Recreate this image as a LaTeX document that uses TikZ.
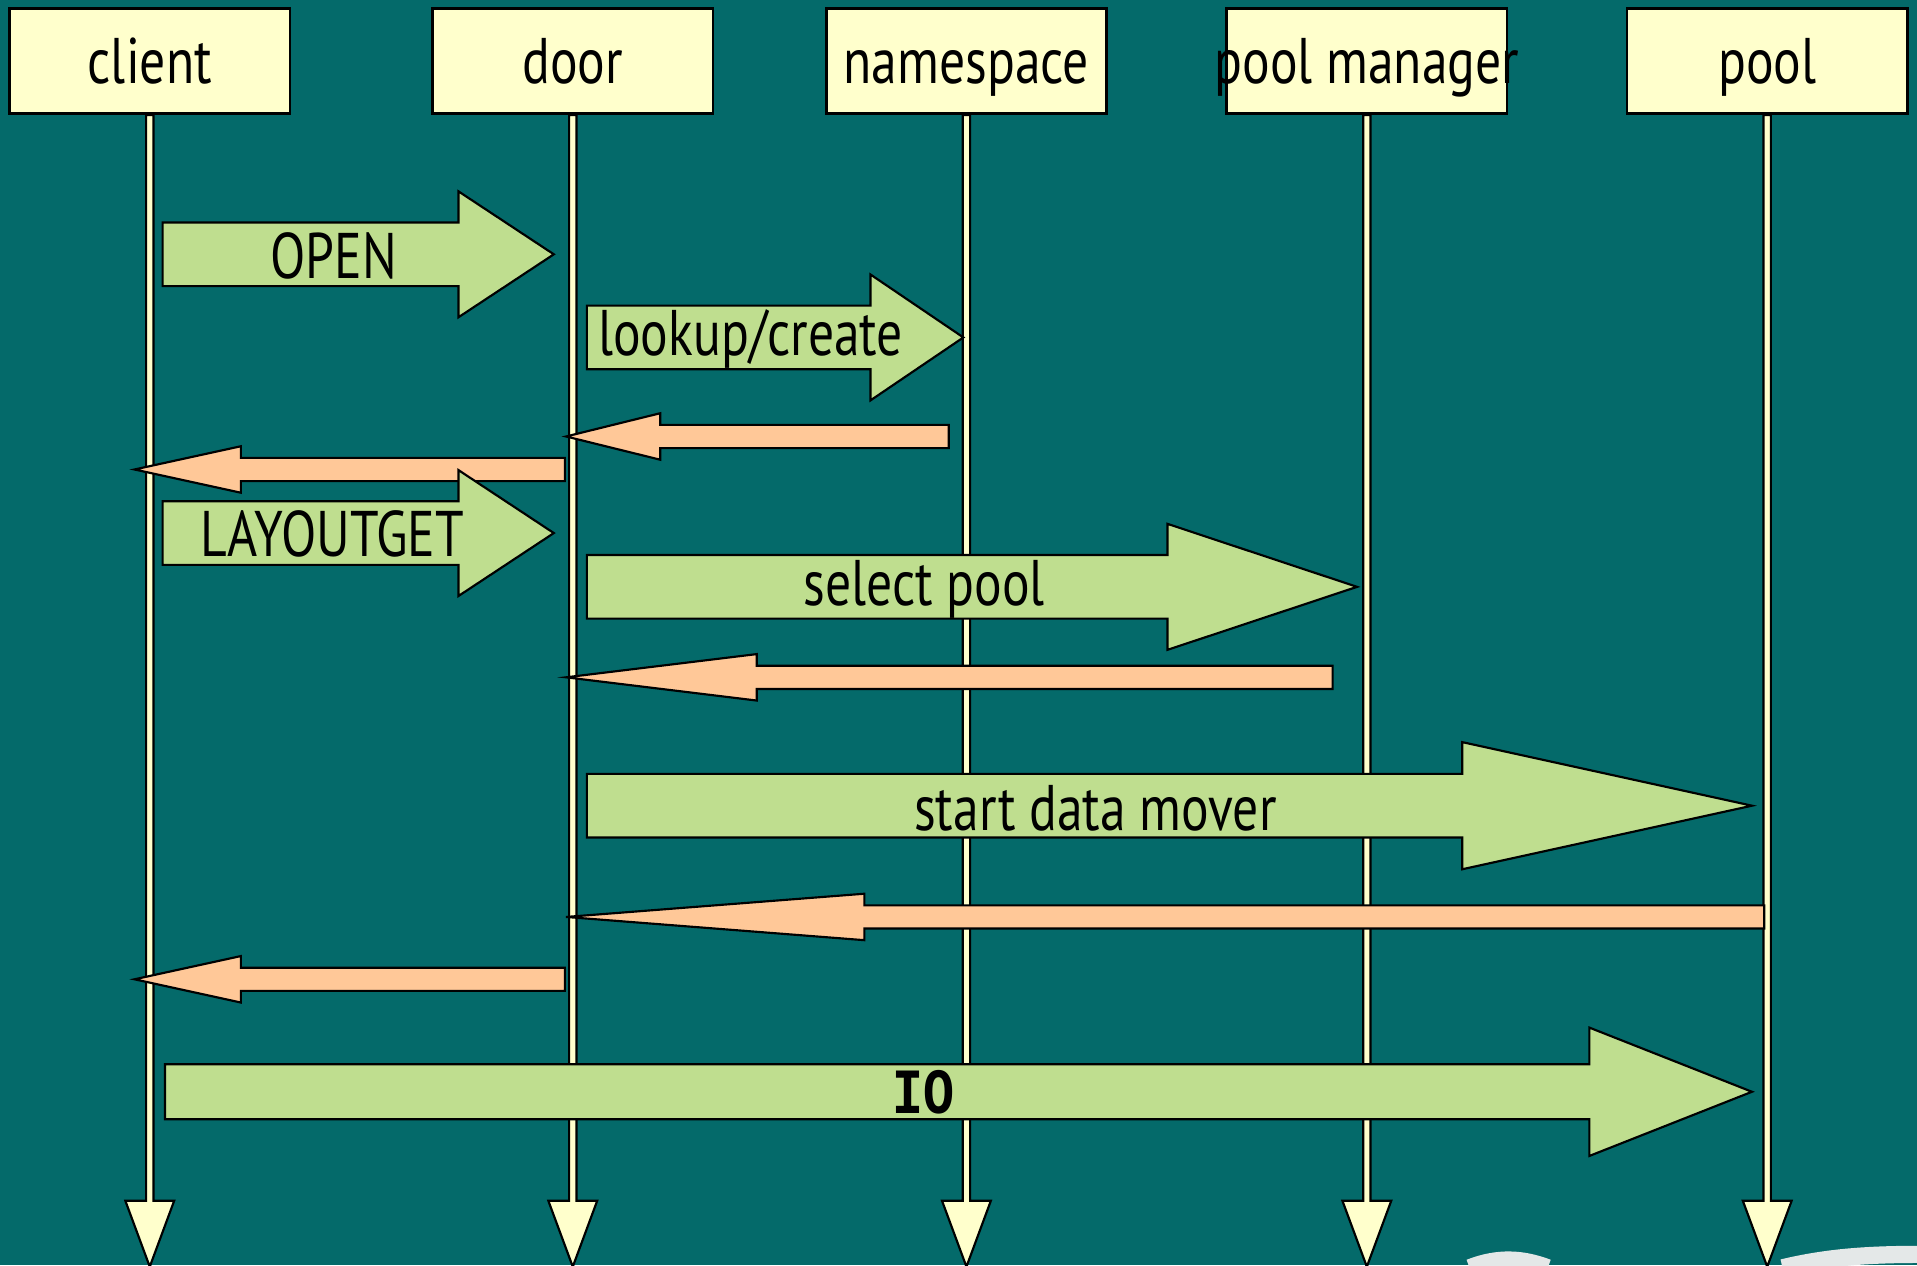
\documentclass[tikz,border=0pt]{standalone}
\usepackage{fontspec}
\setmainfont[FakeStretch=0.8]{PT Sans}
\newfontfamily\iofont[FakeStretch=0.8]{Liberation Mono}
\usetikzlibrary{calc}
\definecolor{slidebg}{RGB}{4,106,106}
\definecolor{hdrfill}{RGB}{255,255,204}
\definecolor{reqfill}{RGB}{191,222,143}
\definecolor{repfill}{RGB}{255,200,152}
\definecolor{swoosh}{RGB}{228,232,232}
% block arrow: fill, x start, x head base, x tip, y, shaft half, head half
\newcommand{\blockarrow}[7]{%
  \draw[blk,fill=#1] (#2,#5-#6) -- (#3,#5-#6) -- (#3,#5-#7) -- (#4,#5)
    -- (#3,#5+#7) -- (#3,#5+#6) -- (#2,#5+#6) -- cycle;}

\begin{document}
\begin{tikzpicture}[x=0.01cm,y=-0.01cm,
  hdr/.style={draw,fill=hdrfill,line width=0.6pt,minimum width=2.29cm,minimum height=0.86cm,inner sep=0pt,
    text height=0.45cm,text depth=0.09cm,font=\fontsize{15}{17}\selectfont},
  life/.style={draw=black,fill=hdrfill,line width=0.5pt},
  blk/.style={draw=black,line width=0.5pt},
  lbl/.style={font=\fontsize{15}{17}\selectfont,inner sep=0pt}]
  \useasboundingbox (0,0) rectangle (1568,1035);
  \fill[slidebg] (0,0) rectangle (1568,1035);
  % template swoosh
  \draw[swoosh,line width=4] (1202,1037) .. controls (1225,1028) and (1245,1029) .. (1266,1037);
  \draw[swoosh,line width=4] (1458,1037) .. controls (1495,1028) and (1530,1026) .. (1570,1026);
  % participants
  \node[hdr] (client) at (122.5,50) {client};
  \node[hdr] (door) at (468.5,50) {door};
  \node[hdr] (namespace) at (790.5,50) {namespace};
  \node[hdr] (poolmgr) at (1118,50) {\makebox[0pt]{pool manager}};
  \node[hdr] (pool) at (1445.5,50) {pool};
  % life lines
  \foreach \n in {client,door,namespace,poolmgr,pool}
    \draw[life] ($(\n.south)+(-3,0)$) -- ++(0,888) -- ++(-17,0) -- ++(20,54)
      -- ++(20,-54) -- ++(-17,0) -- ++(0,-888) -- cycle;
  % OPEN
  \blockarrow{reqfill}{133}{375}{453}{208}{26}{51.5}
  \node[lbl] (open) at (273,209) {OPEN};
  % lookup/create
  \blockarrow{reqfill}{480}{712}{788}{276}{26}{51.5}
  \node[lbl] (lookup) at (614,277) {lookup/create};
  % replies
  \blockarrow{repfill}{776}{540}{463}{357}{9.5}{19}
  \blockarrow{repfill}{462}{197}{110}{384}{9.5}{19}
  % LAYOUTGET
  \blockarrow{reqfill}{133}{375}{453}{436}{26}{51.5}
  \node[lbl] (layoutget) at (272,437) {LAYOUTGET};
  % select pool
  \blockarrow{reqfill}{480}{955}{1110}{480}{26}{51.5}
  \node[lbl] (select) at (756,482) {select pool};
  \blockarrow{repfill}{1090}{619}{463}{554}{9.5}{19}
  % start data mover
  \blockarrow{reqfill}{480}{1196}{1433}{659}{26}{52}
  \node[lbl] (mover) at (896,661) {start data mover};
  \blockarrow{repfill}{1443}{707}{463}{750}{9.5}{19}
  \blockarrow{repfill}{462}{197}{110}{801}{9.5}{19}
  % IO
  \blockarrow{reqfill}{135}{1300}{1433}{893}{22.5}{52.5}
  \node[lbl,font=\iofont\bfseries\fontsize{15}{17}\selectfont] (io) at (755,893) {IO};
\end{tikzpicture}
\end{document}
